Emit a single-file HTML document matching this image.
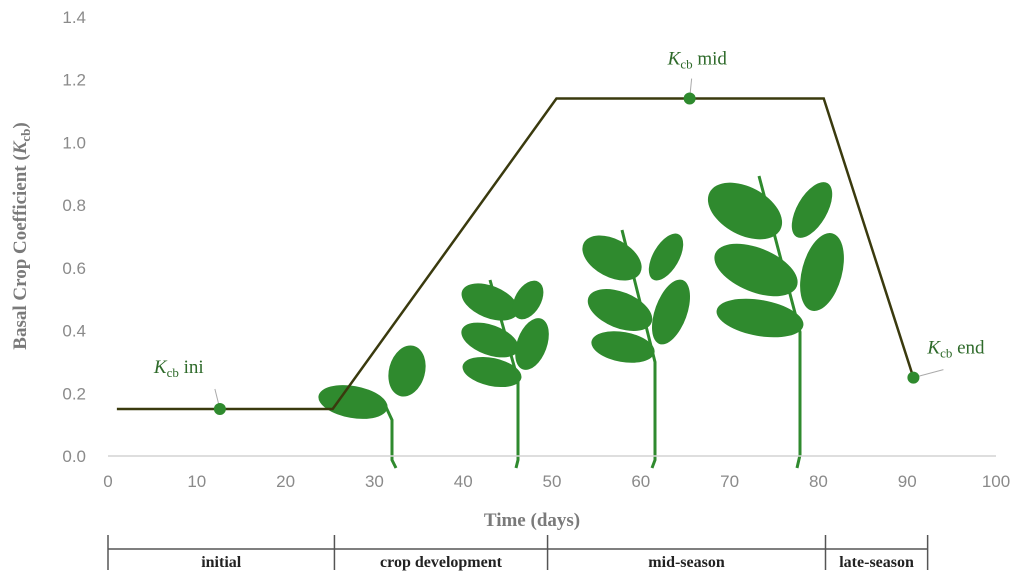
<!DOCTYPE html>
<html><head><meta charset="utf-8"><style>
body{margin:0;background:#fff}
svg{display:block}
.tk{font-family:"Liberation Sans",sans-serif;font-size:17px;fill:#8a8a8a}
.ttl{font-family:"Liberation Serif",serif;font-weight:bold;font-size:19px;fill:#7a7a7a}
.ann{font-family:"Liberation Serif",serif;font-size:19px;fill:#2e6a2a}
.stg{font-family:"Liberation Serif",serif;font-weight:bold;font-size:16px;fill:#222}
</style></head><body>
<svg id="c" width="1024" height="583">
<g id="plants"></g>
<g id="axes"></g>
<g id="series"></g>
<text class="ttl" x="532" y="526" text-anchor="middle">Time (days)</text>
<text class="ttl" transform="translate(26,236) rotate(-90)" text-anchor="middle">Basal Crop Coefficient (<tspan font-style="italic">K</tspan><tspan font-size="13" dy="4">cb</tspan><tspan dy="-4">)</tspan></text>
<g id="stages"></g>
</svg>
<script>
const xTicks=[0,10,20,30,40,50,60,70,80,90,100];
const yTicks=[0.0,0.2,0.4,0.6,0.8,1.0,1.2,1.4];
const curveX=[1,25.3,50.5,80.6,90.7];
const curveY=[0.15,0.15,1.14,1.14,0.25];
const markerX=[12.6,65.5,90.7];
const markerY=[0.15,1.14,0.25];
const markerLabels=["ini","mid","end"];
const stageBounds=[0,25.5,49.5,80.8,92.3];
const stageNames=["initial","crop development","mid-season","late-season"];
const NS="http://www.w3.org/2000/svg";
const X0=108,X1=996,Y0=456,Y1=17;
const sx=v=>X0+(v-0)/(100-0)*(X1-X0);
const sy=v=>Y0-(v-0)/(1.4-0)*(Y0-Y1);
function mk(tag,attrs,parent){const e=document.createElementNS(NS,tag);for(const k in attrs)e.setAttribute(k,attrs[k]);parent.appendChild(e);return e;}
const ax=document.getElementById('axes');
let l=mk('line',{x1:X0,x2:X1,y1:Y0,y2:Y0,stroke:'#d4d4d4','stroke-width':1.5},ax);


xTicks.forEach(t=>{const e=mk('text',{x:sx(t),y:Y0+31,'text-anchor':'middle',class:'tk'},ax);e.textContent=t;

});
yTicks.forEach(t=>{const e=mk('text',{x:X0-22,y:sy(t)+6,'text-anchor':'end',class:'tk'},ax);e.textContent=t.toFixed(1);

});
const pg=document.getElementById('plants');const G='#2f8a2e';
const stems=["385,405 392,420 392,460 396,468","490,280 518,380 518,460 516,468","622,230 655,362 655,460 652,468","759,176 800,332 800,455 797,468"];
const leaves=[[353,402,35,16,10],[407,371,18,26,15],
[490,302,30,16,22],[490,340,30,15,20],[492,372,30,14,12],[528,300,13,21,30],[532,344,15,27,20],
[612,258,32,19,28],[620,310,34,18,22],[623,347,32,15,10],[666,257,13,26,30],[671,312,16,34,20],
[745,211,40,24,28],[756,270,44,22,22],[760,318,44,18,10],[812,210,15,31,30],[822,272,20,40,15]];
stems.forEach(s=>{const e=mk('polyline',{points:s,fill:'none',stroke:G,'stroke-width':3},pg);

});
leaves.forEach(v=>{const e=mk('ellipse',{cx:v[0],cy:v[1],rx:v[2],ry:v[3],fill:G,transform:`rotate(${v[4]} ${v[0]} ${v[1]})`},pg);

});
const sg=document.getElementById('series');
const p=mk('polyline',{points:curveX.map((x,i)=>sx(x)+','+sy(curveY[i])).join(' '),fill:'none',stroke:'#3a3a0e','stroke-width':2.5},sg);


const labOff=[[-66,-36,-5,-20],[-22,-34,2,-20],[14,-24,30,-8]];
markerX.forEach((x,i)=>{const cx=sx(x),cy=sy(markerY[i]);const o=labOff[i];
const ln=mk('line',{x1:cx,y1:cy,x2:cx+o[2],y2:cy+o[3],stroke:'#aaa','stroke-width':1},sg);


const c=mk('circle',{cx:cx,cy:cy,r:6,fill:G},sg);


const t=mk('text',{x:cx+o[0],y:cy+o[1],class:'ann'},sg);
t.innerHTML='<tspan font-style="italic">K</tspan><tspan font-size="13" dy="4">cb</tspan><tspan dy="-4"> '+markerLabels[i]+'</tspan>';

});
const st=document.getElementById('stages');
const SY=549;
const bl=mk('line',{x1:sx(stageBounds[0]),x2:sx(stageBounds[stageBounds.length-1]),y1:SY,y2:SY,stroke:'#555','stroke-width':1.5},st);


stageBounds.forEach(b=>{const e=mk('line',{x1:sx(b),x2:sx(b),y1:SY-14,y2:SY+21,stroke:'#555','stroke-width':1.5},st);

});
stageNames.forEach((n,i)=>{const e=mk('text',{x:(sx(stageBounds[i])+sx(stageBounds[i+1]))/2,y:SY+18,'text-anchor':'middle',class:'stg'},st);e.textContent=n;

});
</script>
</body></html>
